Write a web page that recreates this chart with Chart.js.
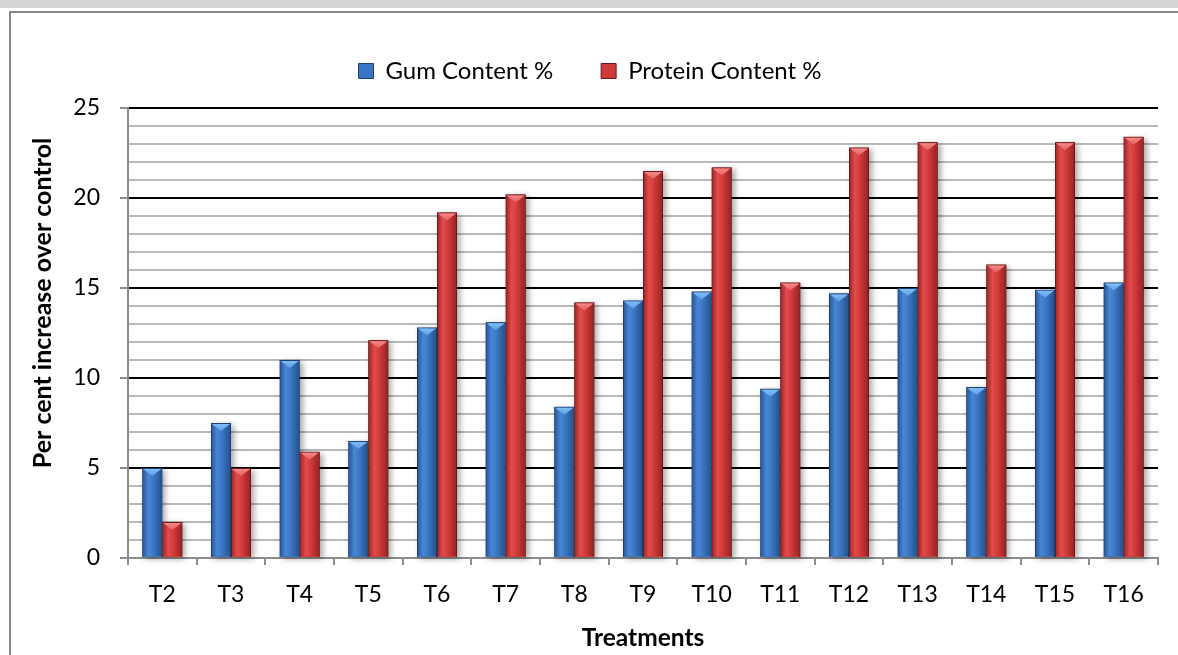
<!DOCTYPE html>
<html>
<head>
<meta charset="utf-8">
<title>Per cent increase over control</title>
<script src="https://cdn.jsdelivr.net/npm/chart.js@4.4.1/dist/chart.umd.min.js"></script>
<style>
  html, body { margin: 0; padding: 0; background: #fff; width: 1178px; height: 655px; overflow: hidden; }
  .strip { position: absolute; left: 0; top: 0; width: 1178px; height: 8px; background: #d4d4d4; }
  .frame { position: absolute; left: 9px; top: 11px; width: 1220px; height: 720px; border: 2px solid #878787; box-sizing: border-box; }
  #wrap { position: absolute; left: 0; top: 0; width: 1178px; height: 655px; }
</style>
</head>
<body>
<div class="strip"></div>
<div class="frame"></div>
<div id="wrap"><canvas id="chart" width="1178" height="655"></canvas></div>
<script>
// Treatments and their per cent increase over control
const treatments = ['T2', 'T3', 'T4', 'T5', 'T6', 'T7', 'T8', 'T9', 'T10', 'T11', 'T12', 'T13', 'T14', 'T15', 'T16'];
const gumContent = [5.0, 7.5, 11.0, 6.5, 12.8, 13.1, 8.4, 14.3, 14.8, 9.4, 14.7, 15.0, 9.5, 14.9, 15.3];
const proteinContent = [2.0, 5.0, 5.9, 12.1, 19.2, 20.2, 14.2, 21.5, 21.7, 15.3, 22.8, 23.1, 16.3, 23.1, 23.4];
const yMin = 0;
const yMax = 25;
const yMajorStep = 5;

const FONT = 'Lato, "Open Sans", sans-serif';

// Bevelled bar look: horizontal body shading plus a light chevron on the top face
const barLook = [
  { fill: '#3a75c4', edge: '#1f3f6e',
    body: [[0, '#2b5d9e'], [0.28, '#4887d6'], [0.55, '#3c77c5'], [1, '#27538e']],
    cap: ['#7dbdf7', '#5c9fe6'] },
  { fill: '#cf3a3a', edge: '#6b1818',
    body: [[0, '#a52b2b'], [0.28, '#e24c4c'], [0.55, '#d23b3b'], [1, '#9a2424']],
    cap: ['#f58a8a', '#e45e5e'] }
];

function eachBar(chart, fn) {
  chart.data.datasets.forEach((ds, i) => {
    const meta = chart.getDatasetMeta(i);
    if (meta.hidden) return;
    meta.data.forEach(bar => fn(bar.getProps(['x', 'y', 'base', 'width'], true), barLook[i]));
  });
}

const barShade = {
  id: 'barShade',
  beforeDatasetsDraw(chart) {
    const ctx = chart.ctx;
    eachBar(chart, (b, look) => {
      ctx.save();
      ctx.shadowColor = 'rgba(0,0,0,0.35)';
      ctx.shadowBlur = 6;
      ctx.shadowOffsetX = 3;
      ctx.shadowOffsetY = 2;
      ctx.fillStyle = look.edge;
      ctx.fillRect(b.x - b.width / 2, b.y, b.width, b.base - b.y);
      ctx.restore();
    });
  },
  afterDatasetsDraw(chart) {
    const ctx = chart.ctx;
    eachBar(chart, (b, look) => {
      const l = b.x - b.width / 2 + 1, r = b.x + b.width / 2 - 1;
      const t = b.y + 1, bot = b.base - 1;
      if (bot <= t) return;
      ctx.save();
      const g = ctx.createLinearGradient(l, 0, r, 0);
      look.body.forEach(([p, c]) => g.addColorStop(p, c));
      ctx.fillStyle = g;
      ctx.fillRect(l, t, r - l, bot - t);
      const depth = Math.min(7, (bot - t) / 2);
      const cg = ctx.createLinearGradient(0, t, 0, t + depth);
      cg.addColorStop(0, look.cap[0]);
      cg.addColorStop(1, look.cap[1]);
      ctx.beginPath();
      ctx.moveTo(l, t);
      ctx.lineTo(r, t);
      ctx.lineTo(b.x, t + depth);
      ctx.closePath();
      ctx.fillStyle = cg;
      ctx.fill();
      ctx.restore();
    });
  }
};

// Extra room between the legend row and the plot
const legendGap = {
  id: 'legendGap',
  beforeInit(chart) {
    const fit = chart.legend.fit;
    chart.legend.fit = function () {
      fit.bind(chart.legend)();
      this.height += 15;
    };
  }
};

// Rotated value-axis caption
const yCaption = {
  id: 'yCaption',
  afterDraw(chart) {
    const ctx = chart.ctx;
    ctx.save();
    ctx.translate(43, 303);
    ctx.rotate(-Math.PI / 2);
    ctx.font = 'bold 25px ' + FONT;
    ctx.fillStyle = '#000';
    ctx.textAlign = 'center';
    ctx.textBaseline = 'middle';
    ctx.fillText('Per cent increase over control', 0, 0);
    ctx.restore();
  }
};

function draw() {
  new Chart(document.getElementById('chart'), {
    type: 'bar',
    data: {
      labels: treatments,
      datasets: [
        { label: 'Gum Content %', data: gumContent,
          backgroundColor: barLook[0].fill, borderColor: barLook[0].edge, borderWidth: 1,
          categoryPercentage: 0.5825, barPercentage: 1 },
        { label: 'Protein Content %', data: proteinContent,
          backgroundColor: barLook[1].fill, borderColor: barLook[1].edge, borderWidth: 1,
          categoryPercentage: 0.5825, barPercentage: 1 }
      ]
    },
    options: {
      responsive: false,
      animation: false,
      devicePixelRatio: 1,
      layout: { padding: { left: 22, right: 20, top: 11, bottom: 0 } },
      plugins: {
        legend: {
          position: 'top',
          align: 'center',
          labels: { boxWidth: 15, boxHeight: 15, padding: 48, color: '#000',
                    font: { family: FONT, size: 24 } }
        },
        tooltip: { enabled: false }
      },
      scales: {
        x: {
          afterFit(s) { s.height = 97; },
          border: { color: '#8c8c8c', width: 2 },
          grid: { drawOnChartArea: false, drawTicks: true, tickLength: 7, color: '#8c8c8c', lineWidth: 2, offset: true },
          ticks: { color: '#000', padding: 16, maxRotation: 0, font: { family: FONT, size: 23 } },
          title: { display: true, text: 'Treatments', color: '#000',
                   font: { family: FONT, size: 24.5, weight: 'bold' }, padding: { top: 0, bottom: 2 } }
        },
        y: {
          min: yMin,
          max: yMax,
          afterFit(s) { s.width = 106; },
          border: { color: '#8c8c8c', width: 2 },
          grid: {
            lineWidth: 2,
            tickLength: 8,
            color: c => c.tick.value === yMin ? '#8c8c8c' : (c.tick.value % yMajorStep === 0 ? '#000' : '#b9b9b9'),
            tickColor: c => c.tick.value % yMajorStep === 0 ? '#8c8c8c' : 'rgba(0,0,0,0)'
          },
          ticks: {
            stepSize: 1, autoSkip: false, padding: 20, color: '#000',
            font: { family: FONT, size: 23 },
            callback: v => (v % yMajorStep === 0 ? v : '')
          }
        }
      }
    },
    plugins: [legendGap, barShade, yCaption]
  });
}

document.fonts.load('22px Lato').then(draw, draw);
</script>
</body>
</html>
